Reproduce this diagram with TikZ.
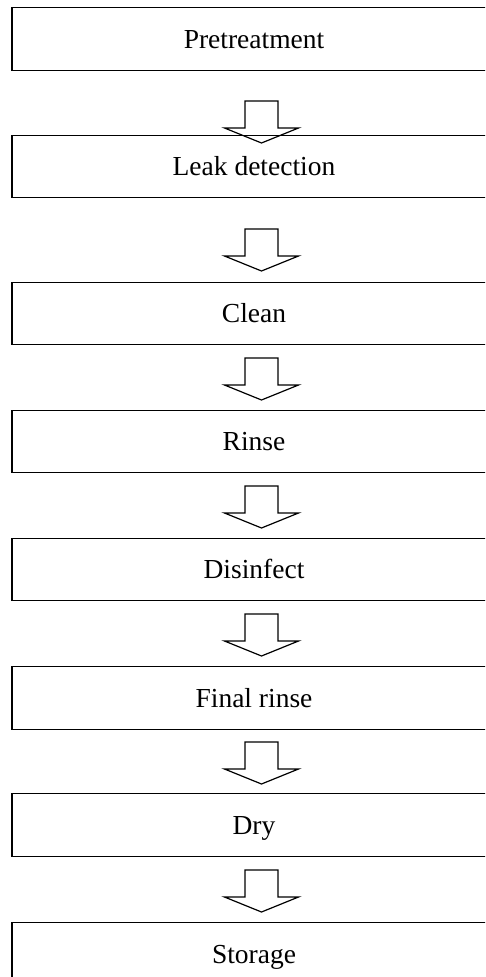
\documentclass[tikz,border=0pt]{standalone}
\usepackage{fontspec}
\setmainfont{Liberation Serif}
\begin{document}
\begin{tikzpicture}[x=1pt,y=1pt,
  stepbox/.style={draw, line width=1.2pt, minimum width=484pt, minimum height=62.5pt,
    inner sep=0pt, font=\fontsize{27.5}{30}\selectfont, text height=18pt, text depth=0pt},
  flowarrow/.style={draw, line width=1.2pt, line join=miter}]
\useasboundingbox (0,0) rectangle (485,-977);
\clip (0,0) rectangle (485,-977);
\node[stepbox] (b1) at (254,-39)  {Pretreatment};
\node[stepbox] (b2) at (254,-166.5) {Leak detection};
\node[stepbox] (b3) at (254,-313.5) {Clean};
\node[stepbox] (b4) at (254,-441.5) {Rinse};
\node[stepbox] (b5) at (254,-569.5) {Disinfect};
\node[stepbox] (b6) at (254,-698) {Final rinse};
\node[stepbox] (b7) at (254,-825) {Dry};
\node[stepbox] (b8) at (254,-954) {Storage};
\foreach \y/\n in {-101/a1,-229/a2,-358/a3,-486/a4,-614/a5,-742/a6,-870/a7}{
  \coordinate (\n) at (261.5,\y);
  \draw[flowarrow] ([xshift=-16.5pt]\n) -- ([xshift=-16.5pt,yshift=-27pt]\n)
    -- ([xshift=-37pt,yshift=-27pt]\n) -- ([yshift=-42pt]\n)
    -- ([xshift=37pt,yshift=-27pt]\n) -- ([xshift=16.5pt,yshift=-27pt]\n)
    -- ([xshift=16.5pt]\n) -- cycle;
}
\end{tikzpicture}
\end{document}
